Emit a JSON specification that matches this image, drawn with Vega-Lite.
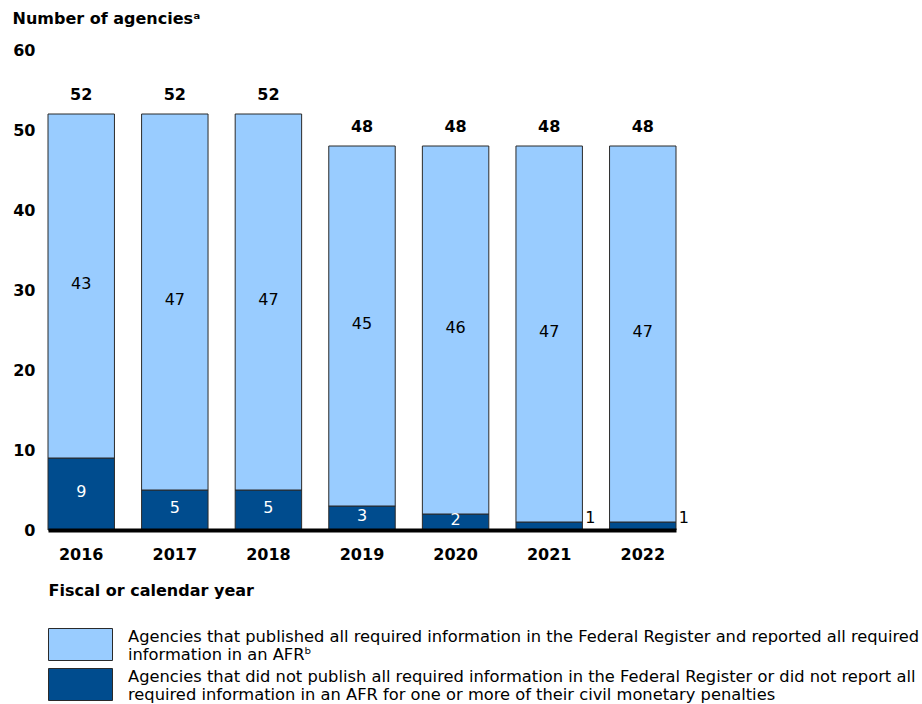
{
  "$schema": "https://vega.github.io/schema/vega-lite/v6.json",
  "autosize": {"type": "none"},
  "width": 628,
  "height": 480,
  "padding": {"left": 48, "top": 50, "right": 246, "bottom": 174},
  "background": "white",
  "config": {
    "view": {"stroke": null},
    "font": "DejaVu Sans"
  },
  "data": {
    "values": [
      {"year": "2016", "category": "Not published", "value": 9},
      {"year": "2016", "category": "Published", "value": 43},
      {"year": "2017", "category": "Not published", "value": 5},
      {"year": "2017", "category": "Published", "value": 47},
      {"year": "2018", "category": "Not published", "value": 5},
      {"year": "2018", "category": "Published", "value": 47},
      {"year": "2019", "category": "Not published", "value": 3},
      {"year": "2019", "category": "Published", "value": 45},
      {"year": "2020", "category": "Not published", "value": 2},
      {"year": "2020", "category": "Published", "value": 46},
      {"year": "2021", "category": "Not published", "value": 1},
      {"year": "2021", "category": "Published", "value": 47},
      {"year": "2022", "category": "Not published", "value": 1},
      {"year": "2022", "category": "Published", "value": 47}
    ]
  },
  "transform": [
    {"stack": "value", "groupby": ["year"], "sort": [{"field": "category", "order": "ascending"}], "as": ["v0", "v1"]}
  ],
  "encoding": {
    "x": {
      "field": "year",
      "type": "nominal",
      "scale": {"paddingInner": 0.29, "paddingOuter": 0},
      "axis": {
        "title": "Fiscal or calendar year",
        "titleFont": "DejaVu Sans",
        "titleFontSize": 16,
        "titleFontWeight": "bold",
        "titleColor": "black",
        "titleAnchor": "start",
        "titleAlign": "left",
        "titleX": 0,
        "titleY": 60,
        "titleBaseline": "middle",
        "labelAngle": 0,
        "labelFont": "DejaVu Sans",
        "labelFontSize": 16,
        "labelFontWeight": "bold",
        "labelColor": "black",
        "labelPadding": 16,
        "ticks": false,
        "domainColor": "black",
        "domainWidth": 4,
        "zindex": 1
      }
    }
  },
  "layer": [
    {
      "mark": {"type": "bar", "stroke": "#2a2a2a", "strokeWidth": 1},
      "encoding": {
        "y": {
          "field": "v0",
          "type": "quantitative",
          "scale": {"domain": [0, 60], "nice": false},
          "axis": {
            "values": [0, 10, 20, 30, 40, 50, 60],
            "title": "Number of agencies\u1d43",
            "titleAngle": 0,
            "titleAlign": "left",
            "titleBaseline": "middle",
            "titleX": -36,
            "titleY": -32,
            "titleFont": "DejaVu Sans",
            "titleFontSize": 16,
            "titleFontWeight": "bold",
            "titleColor": "black",
            "labelFont": "DejaVu Sans",
            "labelFontSize": 16,
            "labelFontWeight": "bold",
            "labelColor": "black",
            "labelPadding": 13,
            "ticks": false,
            "domain": false,
            "grid": false
          }
        },
        "y2": {"field": "v1"},
        "color": {
          "field": "category",
          "type": "nominal",
          "scale": {"domain": ["Published", "Not published"], "range": ["#99CCFF", "#004C8E"]},
          "legend": {
            "title": null,
            "orient": "none",
            "legendX": 16,
            "legendY": 578,
            "direction": "vertical",
            "symbolType": "M-2,-1H2V1H-2Z",
            "symbolSize": 1024,
            "symbolStrokeColor": "#2a2a2a",
            "symbolStrokeWidth": 1,
            "symbolOpacity": 1,
            "rowPadding": 2,
            "labelOffset": 31,
            "labelFont": "DejaVu Sans",
            "labelFontSize": 16.3,
            "labelLineHeight": 17,
            "labelBaseline": "bottom",
            "labelColor": "black",
            "labelLimit": 0,
            "labelExpr": "datum.label == 'Published' ? ['Agencies that published all required information in the Federal Register and reported all required', 'information in an AFR\u1d47'] : ['Agencies that did not publish all required information in the Federal Register or did not report all', 'required information in an AFR for one or more of their civil monetary penalties']"
          }
        },
        "order": {"field": "category", "sort": "ascending"}
      }
    },
    {
      "transform": [
        {"filter": "datum.value >= 2"},
        {"fold": ["v0", "v1"], "as": ["edge", "pos"]},
        {"aggregate": [{"op": "mean", "field": "pos", "as": "mid"}], "groupby": ["year", "category", "value"]}
      ],
      "mark": {"type": "text", "fontSize": 16, "font": "DejaVu Sans", "baseline": "middle", "dy": -2},
      "encoding": {
        "y": {"field": "mid", "type": "quantitative"},
        "text": {"field": "value", "type": "quantitative"},
        "color": {
          "condition": {"test": "datum.category === 'Not published'", "value": "white"},
          "value": "black"
        }
      }
    },
    {
      "transform": [{"filter": "datum.value < 2"}],
      "mark": {"type": "text", "fontSize": 16, "font": "DejaVu Sans", "baseline": "middle", "align": "left", "dx": 36, "dy": -12, "color": "black"},
      "encoding": {
        "y": {"field": "v0", "type": "quantitative"},
        "text": {"field": "value", "type": "quantitative"}
      }
    },
    {
      "transform": [{"aggregate": [{"op": "sum", "field": "value", "as": "total"}], "groupby": ["year"]}],
      "mark": {"type": "text", "fontSize": 16, "fontWeight": "bold", "font": "DejaVu Sans", "baseline": "middle", "dy": -19, "color": "black"},
      "encoding": {
        "y": {"field": "total", "type": "quantitative"},
        "text": {"field": "total", "type": "quantitative"}
      }
    }
  ]
}
